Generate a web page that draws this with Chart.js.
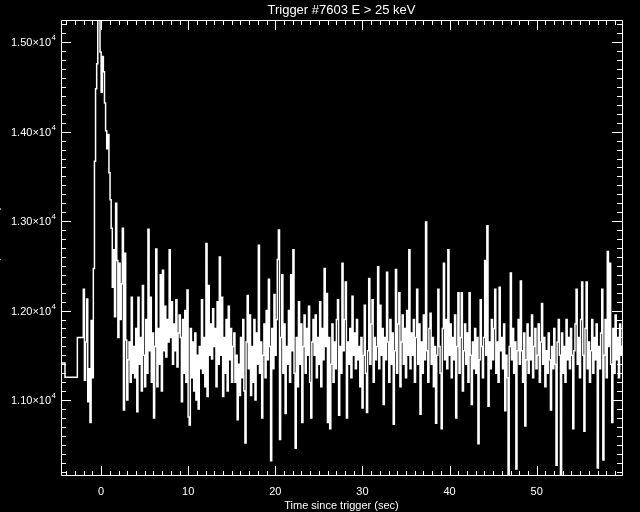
<!DOCTYPE html>
<html><head><meta charset="utf-8">
<script src="https://cdn.jsdelivr.net/npm/chart.js@4"></script>
<style>html,body{margin:0;padding:0;background:#000;overflow:hidden}canvas{display:block}</style>
</head><body>
<canvas id="c" width="640" height="512"></canvas>
<script>
const titleText = "Trigger #7603 E > 25 keV";
const xTitle = "Time since trigger (sec)";
const yTitle = "Rate (counts s\u207B\u00B9)";
const xTickValues = [0, 10, 20, 30, 40, 50];
const yTickValues = [11000, 12000, 13000, 14000, 15000];
const yTickMantissa = ["1.10", "1.20", "1.30", "1.40", "1.50"];
const yTickExponent = "4";
const xRange = [-4.608, 59.8];
const yRange = [10162, 15249];

// pre-trigger (coarse) bins: start times and rates
const preTimes = [-4.608, -4.15, -2.73];
const preRates = [11428, 11413, 11254];

// fine bins
const binStart = -2.048;
const binWidth = 0.128;
const rates = [
11700,12240,11220,11650,12130,10980,11350,10750,
11890,11250,12470,13670,14480,14760,15350,15300,
14890,14440,14840,14670,14320,14010,13810,13970,
13540,13240,12920,12260,12680,11930,13200,12560,
11700,12530,11900,12300,12920,10890,12640,11670,
11000,11450,11650,11200,12150,11300,11600,11250,
11800,10870,12150,11400,11700,11100,12280,11500,
11150,11900,11300,12910,11550,12150,11200,11750,
10800,11600,12690,11150,11800,11400,12400,11100,
12450,11550,12050,11480,11900,11650,12680,11700,
12100,11400,11850,11550,12120,11370,11750,11950,
11700,10980,11900,11300,12000,11200,12230,10810,
10720,11800,11250,11650,11100,11750,11000,11500,
10900,11600,11350,12120,11300,11700,11150,12750,
11040,12280,11500,11850,11460,12020,11600,11800,
11150,12100,11400,12600,11500,12150,11040,11700,
11300,11900,11100,12050,11450,11800,11200,11600,
11750,11200,11500,10780,11400,11050,11700,11250,
11900,11100,10520,11650,12170,11350,11950,11050,
11600,11200,11900,11000,11750,11400,12730,11300,
11650,10800,11500,11850,11250,12000,11450,12350,
11600,10320,11800,11350,12180,11500,11900,12570,
12900,10560,11700,12400,11300,11850,10850,11600,
11400,12000,11200,12400,11550,12680,11300,10460,
11700,11150,12100,11400,11850,10750,11600,11950,
11300,11800,11500,12050,11200,10800,11650,11900,
11500,11950,11250,11700,11400,12100,11150,11800,
11450,12470,11600,12190,10750,11700,10680,11400,
11850,11200,11650,11350,11900,12120,10830,11600,
11300,12530,11550,11900,12320,10800,11650,11400,
11800,11250,12160,11500,11750,11350,11900,11450,
11600,11150,11700,10910,11500,12060,11300,10860,
11550,12360,11400,11850,12120,11200,11700,11450,
11600,12490,11350,12060,11500,11800,10950,11700,
11450,12430,11650,11200,11900,11400,11750,10730,
11550,12460,11300,11850,12200,11150,11650,11950,
11400,11800,11250,12000,11500,12680,11350,11750,
11500,11900,11200,11700,12240,11400,11850,10840,
11650,11300,11950,11450,12990,11550,11200,11800,
11970,11400,11700,11150,11600,10740,11500,12240,
11600,11300,10680,11800,12530,11450,11900,11350,
12680,11500,11850,11250,11700,11450,11950,10800,
11600,12200,11300,11700,12200,11100,11550,11850,
11400,11750,11200,12200,11500,10950,11650,11350,
11800,11300,11700,10510,11450,12120,11600,11250,
11700,12560,11500,12950,10930,11650,11350,11900,
11450,11800,12240,11300,11650,11200,12260,11550,
11700,11350,11850,10880,11500,11250,10050,11600,
12420,11450,11800,11300,11650,10230,11550,11900,
11400,12330,11550,11200,11750,10710,11450,11850,
11300,11700,11450,11950,11250,11600,11800,11350,
11500,11850,11200,11650,12080,11400,11700,11150,
11550,11300,11750,11450,10890,11600,11350,11800,
11400,10270,11650,11900,11500,10050,11750,11300,
11600,11200,11900,11450,11700,11350,11800,11500,
10680,11550,11850,12240,11400,11700,11250,11900,
12320,11500,10650,11800,12320,11350,11650,11200,
11550,11900,11300,11700,11450,11850,10240,11600,
11350,11750,12240,10330,11500,11900,11250,12660,
11600,12530,11400,10750,11800,11300,11950,11450,
11700,11250,11850,11500,11600
];

const points = [];
preTimes.forEach((t, i) => points.push({x: t, y: preRates[i]}));
rates.forEach((r, i) => points.push({x: binStart + i * binWidth, y: r}));
points.push({x: binStart + rates.length * binWidth, y: rates[rates.length - 1]});

const bgPlugin = {
  id: 'bg',
  beforeDraw(chart) {
    const c = chart.ctx;
    c.save(); c.fillStyle = '#000'; c.fillRect(0, 0, chart.width, chart.height); c.restore();
  }
};

const axesPlugin = {
  id: 'idlAxes',
  afterDraw(chart) {
    const ctx = chart.ctx, xs = chart.scales.x, ys = chart.scales.y, a = chart.chartArea;
    const L = Math.round(a.left), R = Math.round(a.right), T = Math.round(a.top), B = Math.round(a.bottom);
    ctx.save();
    ctx.strokeStyle = '#fff'; ctx.lineWidth = 1;
    ctx.beginPath();
    ctx.rect(L + 0.5, T + 0.5, R - L, B - T);
    for (let v = Math.ceil(xs.min); v <= Math.floor(xs.max); v++) {
      const px = Math.round(xs.getPixelForValue(v)) + 0.5;
      const len = (v % 10 === 0) ? 9 : 4;
      ctx.moveTo(px, B); ctx.lineTo(px, B - len);
      ctx.moveTo(px, T + 1); ctx.lineTo(px, T + 1 + len);
    }
    for (let v = Math.ceil(ys.min / 100) * 100; v <= ys.max; v += 100) {
      const py = Math.round(ys.getPixelForValue(v)) + 0.5;
      const len = (v % 1000 === 0) ? 10 : 5;
      ctx.moveTo(L, py); ctx.lineTo(L + len, py);
      ctx.moveTo(R, py); ctx.lineTo(R - len, py);
    }
    ctx.stroke();

    ctx.fillStyle = '#fff';
    ctx.font = '13px "Liberation Sans", Arial, sans-serif';
    ctx.textAlign = 'center'; ctx.textBaseline = 'middle';
    ctx.fillText(titleText, (L + R) / 2, 10);
    ctx.font = '11px "Liberation Sans", Arial, sans-serif';
    xTickValues.forEach(v => ctx.fillText(String(v), xs.getPixelForValue(v), 492));
    ctx.fillText(xTitle, (L + R) / 2, 506);
    yTickValues.forEach((v, i) => {
      const py = ys.getPixelForValue(v);
      ctx.font = '8px "Liberation Sans", Arial, sans-serif';
      const sw = ctx.measureText(yTickExponent).width;
      ctx.textAlign = 'right'; ctx.textBaseline = 'middle';
      ctx.fillText(yTickExponent, 56, py - 4);
      ctx.font = '11px "Liberation Sans", Arial, sans-serif';
      ctx.fillText(yTickMantissa[i] + "\u00D710", 56 - sw - 0.5, py + 1);
    });
    ctx.save();
    ctx.translate(-1, (T + B) / 2);
    ctx.rotate(-Math.PI / 2);
    ctx.font = '11px "Liberation Sans", Arial, sans-serif';
    ctx.textAlign = 'center'; ctx.textBaseline = 'alphabetic';
    ctx.fillText(yTitle, 0, 0);
    ctx.restore();
    ctx.restore();
  }
};

new Chart(document.getElementById('c'), {
  type: 'line',
  data: {
    datasets: [{
      data: points,
      parsing: false,
      borderColor: '#ffffff',
      borderWidth: 1.5,
      pointRadius: 0,
      fill: false,
      stepped: 'after',
      tension: 0
    }]
  },
  options: {
    responsive: false,
    animation: false,
    devicePixelRatio: 1,
    layout: { padding: { left: 61, right: 18, top: 20, bottom: 37 } },
    scales: {
      x: { type: 'linear', display: false, min: xRange[0], max: xRange[1] },
      y: { type: 'linear', display: false, min: yRange[0], max: yRange[1] }
    },
    plugins: { legend: { display: false }, tooltip: { enabled: false }, title: { display: false } }
  },
  plugins: [bgPlugin, axesPlugin]
});
</script>
</body></html>
